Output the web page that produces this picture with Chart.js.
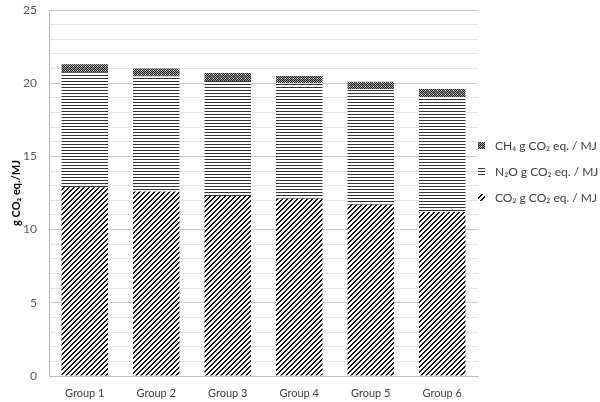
<!DOCTYPE html>
<html>
<head>
<meta charset="utf-8">
<script src="https://cdn.jsdelivr.net/npm/chart.js@4"></script>
<style>
  html, body { margin: 0; padding: 0; background: #fff; }
  #wrap { width: 600px; height: 402px; }
</style>
</head>
<body>
<div id="wrap"><canvas id="grafico" width="600" height="402"></canvas></div>
<script>
const grupos = ["Group 1", "Group 2", "Group 3", "Group 4", "Group 5", "Group 6"];
const co2 = [12.9, 12.6, 12.3, 12.1, 11.7, 11.2];
const n2o = [7.85, 7.85, 7.85, 7.9, 7.9, 7.85];
const ch4 = [0.55, 0.55, 0.55, 0.5, 0.5, 0.55];
const legendas = ["CO₂ g CO₂ eq. / MJ", "N₂O g CO₂ eq. / MJ", "CH₄ g CO₂ eq. / MJ"];
const yTicks = [0, 5, 10, 15, 20, 25];

const fonte = "Lato, 'Liberation Sans', sans-serif";

function padrao(tam, desenhar) {
  const c = document.createElement("canvas");
  c.width = tam; c.height = tam;
  const g = c.getContext("2d");
  g.fillStyle = "#fff";
  g.fillRect(0, 0, tam, tam);
  desenhar(g);
  return document.createElement("canvas").getContext("2d").createPattern(c, "repeat");
}

// diagonal "/" stripes
const padCO2 = padrao(5, g => {
  g.fillStyle = "#111";
  for (let y = 0; y < 5; y++) {
    for (let x = 0; x < 5; x++) {
      if (((x + y) % 5) < 2) g.fillRect(x, y, 1, 1);
    }
  }
});

// horizontal lines
const padN2O = padrao(3, g => {
  g.fillStyle = "#333";
  g.fillRect(0, 0, 3, 1);
});

// small checker
const padCH4 = padrao(4, g => {
  g.fillStyle = "#9a9a9a";
  g.fillRect(0, 0, 4, 4);
  g.fillStyle = "#222";
  for (let y = 0; y < 4; y++)
    for (let x = 0; x < 4; x++)
      if ((x + y) % 2 === 0) g.fillRect(x, y, 1, 1);
  g.fillStyle = "#fff";
  g.fillRect(1, 2, 1, 1);
});

const legendaLateral = {
  id: "legendaLateral",
  afterDraw(chart) {
    const ctx = chart.ctx;
    const ds = chart.data.datasets;
    ctx.save();
    ctx.font = "12px " + fonte;
    ctx.textBaseline = "middle";
    const ys = [146, 172, 198];
    for (let i = 0; i < ds.length; i++) {
      const d = ds[ds.length - 1 - i];
      const y = ys[i];
      ctx.fillStyle = d.backgroundColor;
      ctx.fillRect(478, y - 4, 7, 7);
      ctx.fillStyle = "#404040";
      ctx.fillText(d.label, 495, y);
    }
    ctx.restore();
  }
};

new Chart(document.getElementById("grafico"), {
  type: "bar",
  data: {
    labels: grupos,
    datasets: [
      { label: legendas[0], data: co2, backgroundColor: padCO2 },
      { label: legendas[1], data: n2o, backgroundColor: padN2O },
      { label: legendas[2], data: ch4, backgroundColor: padCH4 }
    ]
  },
  options: {
    responsive: false,
    animation: false,
    layout: { padding: { top: 10, right: 122, left: 0, bottom: 0 } },
    plugins: { legend: { display: false }, tooltip: { enabled: false } },
    datasets: { bar: { barPercentage: 0.65, categoryPercentage: 1 } },
    scales: {
      x: {
        stacked: true,
        grid: { display: false },
        border: { display: true, color: "#bfbfbf" },
        ticks: { color: "#404040", font: { family: fonte, size: 11 }, padding: 3, maxRotation: 0 },
        afterFit: s => { s.height = 26; }
      },
      y: {
        stacked: true,
        min: 0,
        max: 25,
        border: { display: true, color: "#bfbfbf" },
        grid: {
          drawTicks: false,
          color: c => (c.tick.value % 5 === 0 ? "#c8c8c8" : "#e4e4e4")
        },
        ticks: {
          stepSize: 1,
          autoSkip: false,
          padding: 12,
          color: "#595959",
          font: { family: fonte, size: 12 },
          callback: v => (yTicks.includes(v) ? v : "")
        },
        title: {
          display: true,
          text: "g CO₂ eq./MJ",
          color: "#000",
          font: { family: fonte, size: 11, weight: "bold" },
          padding: { top: 10, bottom: 0 }
        },
        afterFit: s => { s.width = 49; s.paddingTop = 0; s.paddingBottom = 0; }
      }
    }
  },
  plugins: [legendaLateral]
});
</script>
</body>
</html>
